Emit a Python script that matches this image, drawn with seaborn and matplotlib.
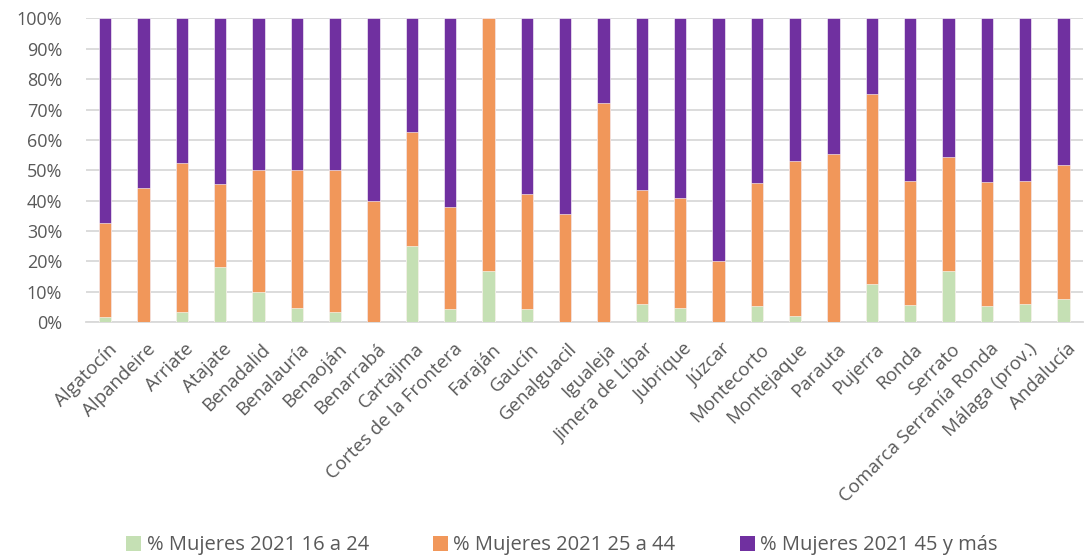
import matplotlib
matplotlib.use("Agg")
import matplotlib.pyplot as plt
import matplotlib.transforms as mtransforms
import numpy as np
import pandas as pd
import seaborn as sns
from matplotlib.patches import Patch
from matplotlib.ticker import PercentFormatter

municipios = [
    "Algatocín", "Alpandeire", "Arriate", "Atajate", "Benadalid", "Benalauría",
    "Benaoján", "Benarrabá", "Cartajima", "Cortes de la Frontera", "Faraján",
    "Gaucín", "Genalguacil", "Igualeja", "Jimera de Líbar", "Jubrique", "Júzcar",
    "Montecorto", "Montejaque", "Parauta", "Pujerra", "Ronda", "Serrato",
    "Comarca Serranía Ronda", "Málaga (prov.)", "Andalucía",
]

# % de mujeres por tramo de edad (2021)
m_16_24 = [1.7, 0.0, 3.4, 18.2, 10.0, 4.5, 3.3, 0.0, 25.0, 4.2, 16.7,
           4.2, 0.0, 0.0, 6.0, 4.5, 0.0, 5.4, 2.0, 0.0, 12.5, 5.5, 16.7,
           5.2, 6.0, 7.7]
m_25_44 = [30.9, 44.3, 49.0, 27.2, 40.0, 45.5, 46.7, 40.0, 37.5, 33.8, 83.3,
           37.8, 35.6, 72.1, 37.6, 36.4, 20.0, 40.4, 51.0, 55.4, 62.5, 40.8, 37.5,
           40.8, 40.5, 43.9]
m_45_mas = [100 - a - b for a, b in zip(m_16_24, m_25_44)]

series = ["% Mujeres 2021 16 a 24", "% Mujeres 2021 25 a 44", "% Mujeres 2021 45 y más"]
colores = ["#C5E0B4", "#F1975A", "#7030A0"]

df = pd.DataFrame({"municipio": municipios,
                   "s1": m_16_24, "s2": m_25_44, "s3": m_45_mas})
df["c1"] = df["s1"]
df["c2"] = df["s1"] + df["s2"]
df["c3"] = df["c2"] + df["s3"]

plt.rcParams["font.family"] = ["Open Sans", "DejaVu Sans"]
texto = "#595959"

fig, ax = plt.subplots(figsize=(10.87, 5.59), dpi=100)

# stacked bars: draw cumulative totals from top segment down
for col, color in zip(["c3", "c2", "c1"], colores[::-1]):
    sns.barplot(data=df, x="municipio", y=col, order=municipios, color=color,
                width=0.32, edgecolor="white", linewidth=0.4, saturation=1,
                ax=ax, zorder=3)

ax.set_ylim(0, 100)
ax.set_xlim(-0.5, len(municipios) - 0.5)
ax.set_yticks(np.arange(0, 101, 10))
ax.yaxis.set_major_formatter(PercentFormatter(100, decimals=0))
ax.grid(axis="y", color="#D9D9D9", linewidth=1.3, zorder=0)
ax.set_axisbelow(True)
for s in ["top", "right", "left"]:
    ax.spines[s].set_visible(False)
ax.spines["bottom"].set_color("#D9D9D9")
ax.spines["bottom"].set_linewidth(1.3)
ax.tick_params(axis="y", length=0, colors=texto, labelsize=13, pad=17)
ax.tick_params(axis="x", length=0, colors=texto, labelsize=13.5, pad=13)
ax.set_xlabel("")
ax.set_ylabel("")
shift = mtransforms.ScaledTranslation(2 / 72, 0, fig.dpi_scale_trans)
for lab in ax.get_xticklabels():
    lab.set_rotation(45)
    lab.set_ha("right")
    lab.set_rotation_mode("anchor")
    lab.set_transform(lab.get_transform() + shift)

handles = [Patch(facecolor=c, edgecolor="none") for c in colores]
fig.legend(handles, series, loc="lower center", ncol=3, frameon=False,
           fontsize=14.5, labelcolor=texto, bbox_to_anchor=(0.517, -0.026),
           handlelength=0.75, handleheight=0.75, handletextpad=0.25,
           columnspacing=3.2)

fig.subplots_adjust(left=0.079, right=0.996, top=0.967, bottom=0.424)
fig.savefig("out.png", dpi=100)
